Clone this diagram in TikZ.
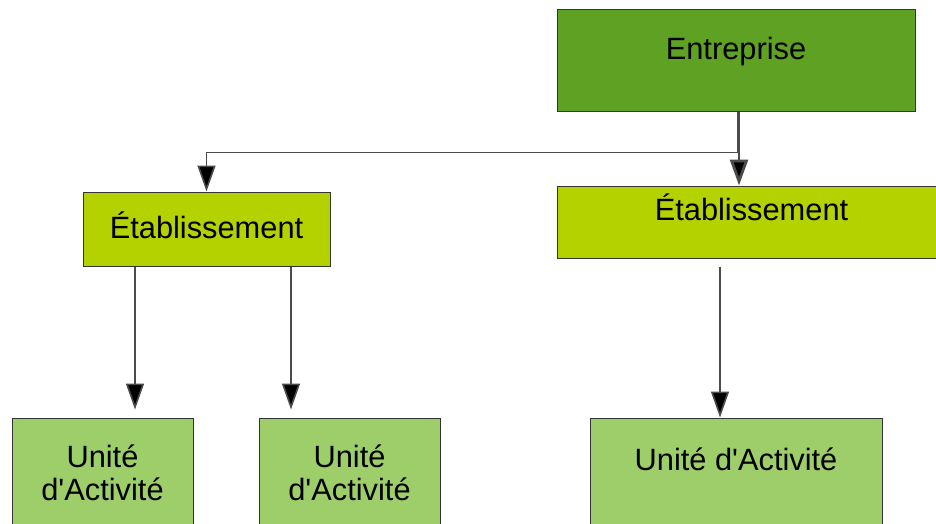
\documentclass[tikz,border=0pt]{standalone}
\usepackage{fontspec}
\setmainfont{Liberation Sans}
\usetikzlibrary{arrows.meta}

\definecolor{entgreen}{RGB}{95,161,35}
\definecolor{etabgreen}{RGB}{180,210,0}
\definecolor{unitgreen}{RGB}{158,206,106}
\definecolor{linegray}{RGB}{75,75,75}

\begin{document}
\begin{tikzpicture}[x=0.5pt,y=-0.5pt,
  box/.style={draw=black!80, line width=0.5pt, inner sep=0pt, align=center,
    font=\fontsize{15.4pt}{16.5pt}\selectfont},
  arr/.style={draw=linegray, line width=0.8pt, -{Triangle[length=13pt,width=9pt,fill=black]}}]
\useasboundingbox (0,0) rectangle (936,524);
\clip (0,0) rectangle (936,524);

\node[box, fill=entgreen, minimum width=179pt, text height=25pt, text depth=26pt] (ent) at (736,61) {Entreprise};

\node[box, fill=etabgreen, minimum width=123.5pt, text height=23pt, text depth=14pt] (etab1) at (206.5,229) {Établissement};
\node[box, fill=etabgreen, minimum width=194.5pt, text height=17pt, text depth=19pt] (etab2) at (751.5,222) {Établissement};

\node[box, fill=unitgreen, minimum width=90.5pt, text height=41pt, text depth=30pt] (ua1) at (102.5,489) {Unité\\d\textquotesingle Activité};
\node[box, fill=unitgreen, minimum width=90.5pt, text height=41pt, text depth=30pt] (ua2) at (349.5,489) {Unité\\d\textquotesingle Activité};
\node[box, fill=unitgreen, minimum width=146pt, text height=26pt, text depth=45pt] (uc) at (736,489) {Unité d\textquotesingle Activité};

\path[arr] ([xshift=1pt]ent.south) -- ++(0,40) -| (etab1.north);
\path[arr, line width=1.4pt] ([xshift=1.5pt]ent.south) -- ([xshift=1.5pt]ent.south |- etab2.north);

\path[arr] ([xshift=-35.75pt]etab1.south) -- ([xshift=-35.75pt,yshift=4pt]etab1.south |- ua1.north);
\path[arr] ([xshift=42.25pt]etab1.south) -- ([xshift=42.25pt,yshift=4pt]etab1.south |- ua2.north);
\path[arr] ([xshift=-15.75pt,yshift=-4pt]etab2.south) -- ([xshift=-15.75pt]etab2.south |- uc.north);
\end{tikzpicture}
\end{document}
